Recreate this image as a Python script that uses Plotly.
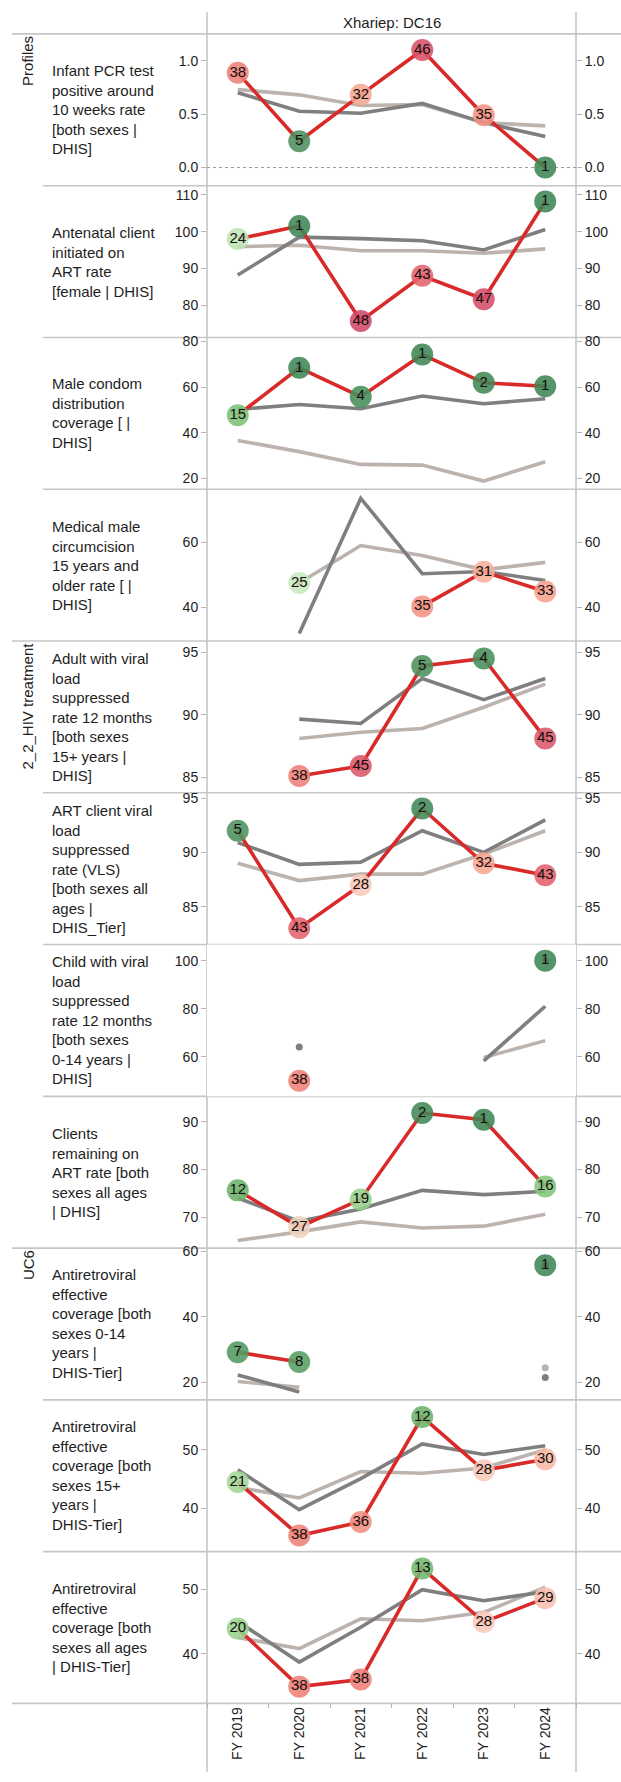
import plotly.graph_objects as go

W, H = 621, 1782

years = ["FY 2019", "FY 2020", "FY 2021", "FY 2022", "FY 2023", "FY 2024"]
chart_title = "Xhariep: DC16"
group_names = ["Profiles", "2_2_HIV treatment", "UC6"]
group_first_panel = [0, 4, 8]

indicator_labels = [
    "Infant PCR test<br>positive around<br>10 weeks rate<br>[both sexes |<br>DHIS]",
    "Antenatal client<br>initiated on<br>ART rate<br>[female | DHIS]",
    "Male condom<br>distribution<br>coverage [ |<br>DHIS]",
    "Medical male<br>circumcision<br>15 years and<br>older rate [ |<br>DHIS]",
    "Adult with viral<br>load<br>suppressed<br>rate 12 months<br>[both sexes<br>15+ years |<br>DHIS]",
    "ART client viral<br>load<br>suppressed<br>rate (VLS)<br>[both sexes all<br>ages |<br>DHIS_Tier]",
    "Child with viral<br>load<br>suppressed<br>rate 12 months<br>[both sexes<br>0-14 years |<br>DHIS]",
    "Clients<br>remaining on<br>ART rate [both<br>sexes all ages<br>| DHIS]",
    "Antiretroviral<br>effective<br>coverage [both<br>sexes 0-14<br>years |<br>DHIS-Tier]",
    "Antiretroviral<br>effective<br>coverage [both<br>sexes 15+<br>years |<br>DHIS-Tier]",
    "Antiretroviral<br>effective<br>coverage [both<br>sexes all ages<br>| DHIS-Tier]",
]

# --- values per indicator: district (red), province (dark grey), national (light grey), district rank
pcr_district = [0.886, 0.246, 0.68, 1.10, 0.49, 0.0]
pcr_province = [0.70, 0.526, 0.508, 0.60, 0.42, 0.29]
pcr_national = [0.73, 0.68, 0.58, 0.59, 0.42, 0.39]
pcr_rank = [38, 5, 32, 46, 35, 1]

anc_district = [98.0, 101.5, 75.7, 88.0, 81.6, 108.2]
anc_province = [88.2, 98.5, 98.1, 97.5, 95.0, 100.6]
anc_national = [95.9, 96.3, 94.8, 94.8, 94.1, 95.3]
anc_rank = [24, 1, 48, 43, 47, 1]

condom_district = [47.7, 68.5, 55.8, 74.3, 61.9, 60.4]
condom_province = [50.2, 52.4, 50.5, 56.1, 52.7, 54.9]
condom_national = [36.6, 31.7, 26.1, 25.8, 18.8, 27.3]
condom_rank = [15, 1, 4, 1, 2, 1]

mmc_district = [None, 47.4, None, 40.2, 50.9, 44.8]
mmc_province = [None, 31.8, 73.6, 50.3, 51.0, 48.2]
mmc_national = [None, 47.4, 59.0, 55.9, 51.5, 53.8]
mmc_rank = [None, 25, None, 35, 31, 33]

adult_vl_district = [None, 85.1, 85.9, 93.9, 94.5, 88.1]
adult_vl_province = [None, 89.65, 89.3, 92.9, 91.2, 92.9]
adult_vl_national = [None, 88.1, 88.6, 88.9, 90.6, 92.45]
adult_vl_rank = [None, 38, 45, 5, 4, 45]

vls_district = [92.0, 83.0, 87.0, 94.05, 89.0, 87.9]
vls_province = [90.9, 88.9, 89.1, 92.0, 90.0, 93.0]
vls_national = [89.0, 87.4, 88.0, 88.0, 89.85, 92.0]
vls_rank = [5, 43, 28, 2, 32, 43]

child_vl_district = [None, 50.0, None, None, None, 100.0]
child_vl_province = [None, 64.0, None, None, 58.3, 81.0]
child_vl_national = [None, None, None, None, 59.7, 66.7]
child_vl_rank = [None, 38, None, None, None, 1]

remain_district = [75.6, 67.9, 73.7, 91.8, 90.4, 76.4]
remain_province = [74.0, 69.1, 71.7, 75.6, 74.7, 75.4]
remain_national = [65.1, 66.9, 69.0, 67.7, 68.1, 70.6]
remain_rank = [12, 27, 19, 2, 1, 16]

arv014_district = [29.2, 26.2, None, None, None, 55.7]
arv014_province = [22.3, 17.1, None, None, None, 21.5]
arv014_national = [20.3, 18.5, None, None, None, 24.5]
arv014_rank = [7, 8, None, None, None, 1]

arv15_district = [44.5, 35.4, 37.7, 55.6, 46.5, 48.4]
arv15_province = [46.6, 39.8, 45.1, 51.0, 49.2, 50.7]
arv15_national = [43.6, 41.8, 46.3, 46.0, 46.9, 50.0]
arv15_rank = [21, 38, 36, 12, 28, 30]

arvall_district = [43.9, 34.9, 36.0, 53.2, 44.9, 48.6]
arvall_province = [45.0, 38.7, 44.1, 49.9, 48.2, 49.6]
arvall_national = [42.5, 40.8, 45.4, 45.1, 46.4, 50.3]
arvall_rank = [20, 38, 38, 13, 28, 29]

y_ranges = [
    [-0.17, 1.25], [71.2, 112.5], [15.2, 81.8], [29.5, 76.4],
    [83.75, 95.9], [81.5, 95.5], [43.5, 106.7], [63.5, 95.3],
    [14.7, 60.9], [32.65, 58.5], [32.3, 55.8],
]
y_ticks = [
    [0.0, 0.5, 1.0], [80, 90, 100, 110], [20, 40, 60, 80], [40, 60],
    [85, 90, 95], [85, 90, 95], [60, 80, 100], [70, 80, 90],
    [20, 40, 60], [40, 50], [40, 50],
]
y_tickformats = [".1f", "", "", "", "", "", "", "", "", "", ""]

panels = [
    (pcr_district, pcr_province, pcr_national, pcr_rank),
    (anc_district, anc_province, anc_national, anc_rank),
    (condom_district, condom_province, condom_national, condom_rank),
    (mmc_district, mmc_province, mmc_national, mmc_rank),
    (adult_vl_district, adult_vl_province, adult_vl_national, adult_vl_rank),
    (vls_district, vls_province, vls_national, vls_rank),
    (child_vl_district, child_vl_province, child_vl_national, child_vl_rank),
    (remain_district, remain_province, remain_national, remain_rank),
    (arv014_district, arv014_province, arv014_national, arv014_rank),
    (arv15_district, arv15_province, arv15_national, arv15_rank),
    (arvall_district, arvall_province, arvall_national, arvall_rank),
]

# ---- style / geometry
FONT = "Liberation Sans, Arial, sans-serif"
RED = "#d92a2a"
DARK = "#7f7f7f"
LIGHT = "#bcb3ae"
SEP = "#c6c6c6"
TXT = "#1e1e1e"
PX_LEFT, PX_RIGHT = 207, 576
PX_TOP = 29
PANEL_H = 152.2
N = len(panels)

rank_scale = [
    [0.00, "#3f8554"], [0.10, "#4f9460"], [0.20, "#68b068"], [0.30, "#84c67b"],
    [0.40, "#a3d895"], [0.47, "#c9e8c0"], [0.52, "#f8cdbf"], [0.60, "#f8aa95"],
    [0.70, "#f0897b"], [0.80, "#e8696f"], [0.90, "#d54c68"], [1.00, "#c23a60"],
]


def py(px):
    return 1 - px / H


def isolated(vals):
    idx = []
    for i, v in enumerate(vals):
        if v is None:
            continue
        prev_ok = i > 0 and vals[i - 1] is not None
        next_ok = i < len(vals) - 1 and vals[i + 1] is not None
        if not prev_ok and not next_ok:
            idx.append(i)
    return idx


fig = go.Figure()
layout = dict(
    width=W, height=H, margin=dict(l=0, r=0, t=0, b=0),
    paper_bgcolor="white", plot_bgcolor="white", showlegend=False,
    font=dict(family=FONT, size=14, color=TXT),
)

shapes = []
annotations = []

for i, (dist, prov, nat, rank) in enumerate(panels):
    yname = "y" if i == 0 else f"y{i + 1}"
    ykey = "yaxis" if i == 0 else f"yaxis{i + 1}"
    rname = f"y{i + 1 + N}"
    rkey = f"yaxis{i + 1 + N}"
    top = PX_TOP + i * PANEL_H
    bot = top + PANEL_H
    dom = [py(bot), py(top)]
    common = dict(
        range=y_ranges[i], autorange=False, tickvals=y_ticks[i], tickformat=y_tickformats[i],
        ticks="outside", ticklen=5, tickwidth=1, tickcolor="#b5b5b5",
        showgrid=False, zeroline=False, showline=False,
        tickfont=dict(family=FONT, size=14, color=TXT), fixedrange=True,
    )
    layout[ykey] = dict(domain=dom, anchor="x", side="left", **common)
    layout[rkey] = dict(overlaying=yname, anchor="x", side="right", **common)

    # national and province lines
    for series, col in ((nat, LIGHT), (prov, DARK)):
        fig.add_trace(go.Scatter(x=years, y=series, mode="lines", yaxis=yname,
                                 line=dict(color=col, width=3.6), hoverinfo="skip"))
        iso = isolated(series)
        if iso:
            fig.add_trace(go.Scatter(x=[years[k] for k in iso], y=[series[k] for k in iso],
                                     mode="markers", yaxis=yname, hoverinfo="skip",
                                     marker=dict(color=col, size=7)))
    # district line
    fig.add_trace(go.Scatter(x=years, y=dist, mode="lines", yaxis=yname,
                             line=dict(color=RED, width=3.6), hoverinfo="skip"))
    iso = isolated(dist)
    if iso:
        fig.add_trace(go.Scatter(x=[years[k] for k in iso], y=[dist[k] for k in iso],
                                 mode="markers", yaxis=yname, hoverinfo="skip",
                                 marker=dict(color=RED, size=7)))
    # rank markers
    xs = [years[k] for k in range(len(years)) if dist[k] is not None]
    ys = [dist[k] for k in range(len(years)) if dist[k] is not None]
    rs = [rank[k] for k in range(len(years)) if dist[k] is not None]
    fig.add_trace(go.Scatter(
        x=xs, y=ys, mode="markers+text", yaxis=yname, hoverinfo="skip",
        text=[str(r) for r in rs], textposition="middle center",
        textfont=dict(family=FONT, size=15, color="#111111"),
        marker=dict(size=22, color=rs, colorscale=rank_scale, cmin=1, cmax=52,
                    opacity=0.88, line=dict(width=0)),
    ))
    # invisible trace for the right axis
    fig.add_trace(go.Scatter(x=[years[0]], y=[None], yaxis=rname, mode="lines",
                             hoverinfo="skip", showlegend=False))

    # indicator label
    annotations.append(dict(
        x=50 / W, y=py(top + PANEL_H / 2), xref="paper", yref="paper",
        xanchor="left", yanchor="middle", align="left", showarrow=False,
        text=indicator_labels[i], font=dict(family=FONT, size=15, color=TXT),
    ))
    # separator above panel i
    x_start = 12 / W if i in group_first_panel else 43 / W
    shapes.append(dict(type="line", xref="paper", yref="paper", x0=x_start, x1=1,
                       y0=py(top), y1=py(top), line=dict(color=SEP, width=1.6), layer="below"))

# bottom line
bottom_px = PX_TOP + N * PANEL_H
shapes.append(dict(type="line", xref="paper", yref="paper", x0=12 / W, x1=1,
                   y0=py(bottom_px), y1=py(bottom_px), line=dict(color=SEP, width=1.6), layer="below"))
# vertical borders
for xp in (PX_LEFT, PX_RIGHT):
    shapes.append(dict(type="line", xref="paper", yref="paper", x0=xp / W, x1=xp / W,
                       y0=py(7), y1=py(1772), line=dict(color=SEP, width=1.6), layer="below"))
# dotted zero line in first panel
shapes.append(dict(type="line", xref="x domain", yref="y", x0=0, x1=1, y0=0, y1=0,
                   line=dict(color="#9a9a9a", width=1, dash="dot"), layer="below"))

# group labels
for g, first in zip(group_names, group_first_panel):
    annotations.append(dict(
        x=28 / W, y=py(PX_TOP + first * PANEL_H), xref="paper", yref="paper",
        xanchor="center", yanchor="top", textangle=-90, showarrow=False,
        text=g, font=dict(family=FONT, size=15, color=TXT),
    ))
# column header
annotations.append(dict(
    x=(PX_LEFT + PX_RIGHT) / 2 / W, y=py(18), xref="paper", yref="paper",
    xanchor="center", yanchor="middle", showarrow=False,
    text=chart_title, font=dict(family=FONT, size=15, color=TXT),
))

layout["xaxis"] = dict(
    type="category", categoryorder="array", categoryarray=years,
    range=[-0.5, len(years) - 0.5], autorange=False,
    domain=[PX_LEFT / W, PX_RIGHT / W], anchor=f"y{N}",
    tickson="boundaries", ticks="outside", ticklen=4, tickcolor="#b5b5b5",
    tickangle=-90, tickfont=dict(family=FONT, size=14, color=TXT),
    showgrid=False, zeroline=False, showline=False, fixedrange=True,
)
layout["shapes"] = shapes
layout["annotations"] = annotations
fig.update_layout(**layout)

fig.write_html(
    "out.html",
    config={"displayModeBar": False, "staticPlot": True},
    post_script="document.body.style.margin='0';document.body.style.padding='0';"
                "document.documentElement.style.overflow='hidden';",
)
